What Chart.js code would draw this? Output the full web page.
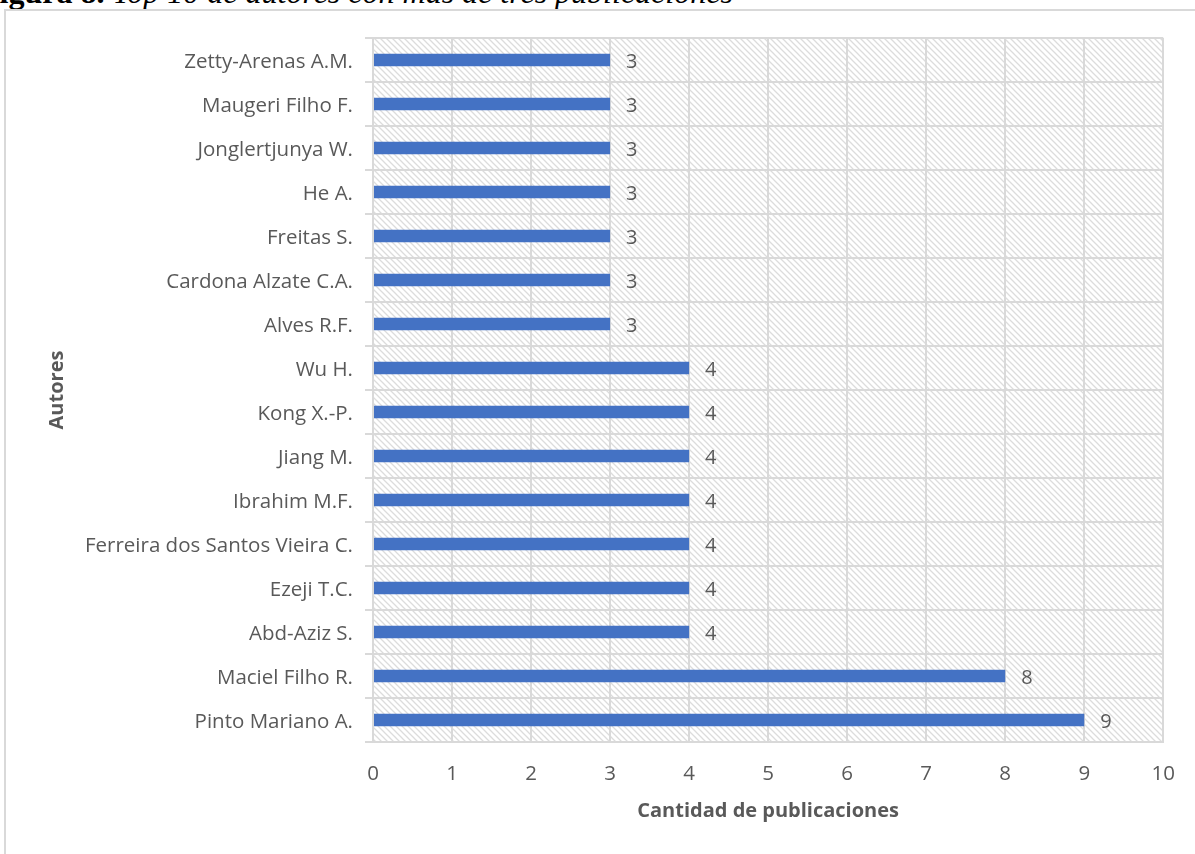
<!DOCTYPE html>
<html>
<head>
<meta charset="utf-8">
<script src="https://cdn.jsdelivr.net/npm/chart.js@4.4.0/dist/chart.umd.min.js"></script>
<style>
  html, body { margin: 0; padding: 0; background: #fff; overflow: hidden; }
  #wrap { position: relative; width: 1195px; height: 854px; }
  #caption {
    position: absolute; left: -20px; top: -24px; line-height: 1;
    font-family: "Liberation Serif", serif; font-size: 32px; color: #000;
    white-space: nowrap;
  }
  #caption b { font-weight: bold; }
  #caption i { font-style: italic; }
  #frame {
    position: absolute; left: 4px; top: 9px; width: 1300px; height: 900px;
    border-left: 2px solid #d9d9d9; border-top: 2px solid #d9d9d9;
  }
  #grafico { position: absolute; left: 0; top: 0; }
</style>
</head>
<body>
<div id="wrap">
  <div id="caption"><b>Figura 8.</b> <i>Top 10 de autores con más de tres publicaciones</i></div>
  <div id="frame"></div>
  <canvas id="grafico" width="1195" height="854"></canvas>
</div>
<script>
const autores = [
  "Zetty-Arenas A.M.", "Maugeri Filho F.", "Jonglertjunya W.", "He A.", "Freitas S.",
  "Cardona Alzate C.A.", "Alves R.F.", "Wu H.", "Kong X.-P.", "Jiang M.", "Ibrahim M.F.",
  "Ferreira dos Santos Vieira C.", "Ezeji T.C.", "Abd-Aziz S.", "Maciel Filho R.", "Pinto Mariano A."
];
const publicaciones = [3, 3, 3, 3, 3, 3, 3, 4, 4, 4, 4, 4, 4, 4, 8, 9];
const ticksX = [0, 1, 2, 3, 4, 5, 6, 7, 8, 9, 10];

const gris = "#595959";
const lineas = "#d9d9d9";
const fuente = "'Open Sans', sans-serif";

// fondo rayado del area de trazado
function rayado() {
  const c = document.createElement("canvas");
  c.width = 6; c.height = 6;
  const g = c.getContext("2d");
  g.strokeStyle = "#dcdcdc";
  g.lineWidth = 1.3;
  g.beginPath();
  g.moveTo(-1, -1); g.lineTo(7, 7);
  g.moveTo(-4, 2); g.lineTo(4, 10);
  g.moveTo(2, -4); g.lineTo(10, 4);
  g.stroke();
  return g.createPattern(c, "repeat");
}

const fondo = {
  id: "fondo",
  beforeDraw(chart) {
    const { ctx, chartArea: a } = chart;
    ctx.save();
    ctx.fillStyle = rayado();
    ctx.fillRect(a.left, a.top, a.right - a.left, a.bottom - a.top);
    ctx.restore();
  }
};

// valor al final de cada barra
const etiquetas = {
  id: "etiquetas",
  afterDatasetsDraw(chart) {
    const ctx = chart.ctx;
    const meta = chart.getDatasetMeta(0);
    ctx.save();
    ctx.fillStyle = gris;
    ctx.font = "20px " + fuente;
    ctx.textAlign = "left";
    ctx.textBaseline = "middle";
    meta.data.forEach((bar, i) => {
      ctx.fillText(publicaciones[i], bar.x + 16, bar.y + 2);
    });
    ctx.restore();
  }
};

new Chart(document.getElementById("grafico"), {
  type: "bar",
  data: {
    labels: autores,
    datasets: [{
      data: publicaciones,
      backgroundColor: "#4472c4",
      barPercentage: 0.28,
      categoryPercentage: 1
    }]
  },
  options: {
    indexAxis: "y",
    responsive: false,
    animation: false,
    layout: { padding: { left: 45, right: 26, top: 38, bottom: 30 } },
    plugins: { legend: { display: false }, tooltip: { enabled: false } },
    scales: {
      x: {
        min: 0, max: 10,
        afterFit(s) { s.height = 82; },
        afterBuildTicks(s) { s.ticks = ticksX.map(v => ({ value: v })); },
        grid: { color: lineas, lineWidth: 2, drawTicks: false },
        border: { color: lineas, width: 2 },
        ticks: { color: gris, font: { family: fuente, size: 20.5 }, padding: 20 },
        title: {
          display: true, text: "Cantidad de publicaciones", color: gris,
          font: { family: fuente, size: 20, weight: "bold" }, padding: { top: 0, bottom: 1 }
        }
      },
      y: {
        afterFit(s) { s.width = 328; },
        grid: { color: lineas, lineWidth: 2, offset: true, tickLength: 8 },
        border: { color: lineas, width: 2 },
        ticks: { color: gris, font: { family: fuente, size: 20.5 }, padding: 12, labelOffset: 2 },
        title: {
          display: true, text: "Autores", color: gris,
          font: { family: fuente, size: 20, weight: "bold" }, padding: { top: 0, bottom: 0 }
        }
      }
    }
  },
  plugins: [fondo, etiquetas]
});
</script>
</body>
</html>
